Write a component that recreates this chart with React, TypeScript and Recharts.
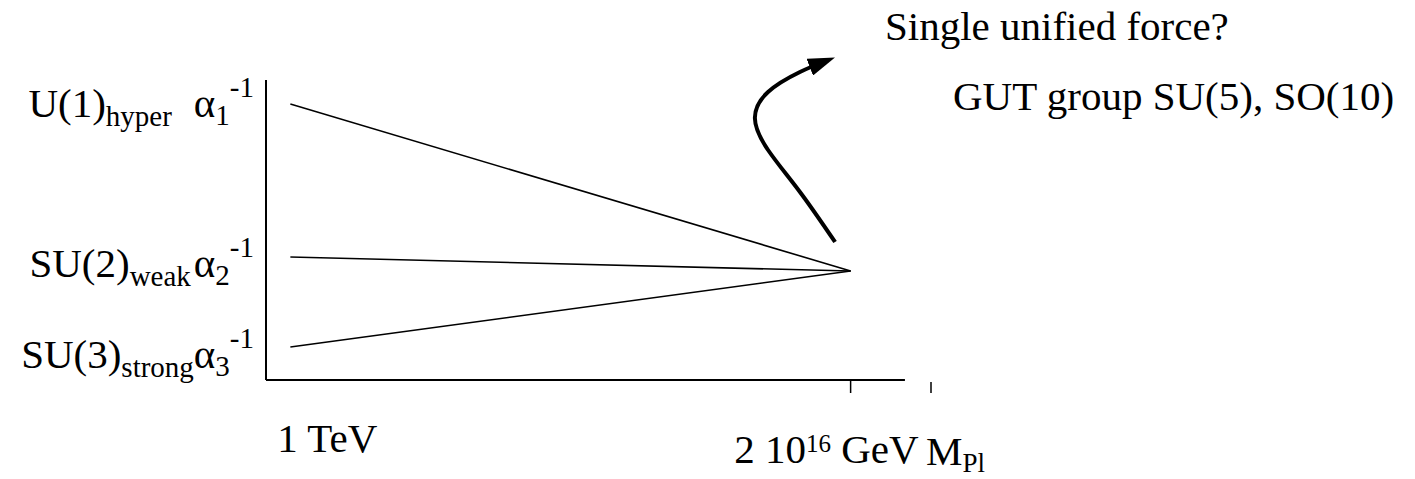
import { Line, LineChart, ReferenceLine, XAxis, YAxis } from "recharts"

// energy axis, schematic "log E" units
const energyTicks = [1, 24, 27.3]
const energyLabels = ["1 TeV", "2 10|16| GeV", "M|Pl"]
const axisEnd = 26.23
const axisTop = 60

// inverse couplings at 1 TeV, meeting at the GUT scale
const groupNames = ["U(1)", "SU(2)", "SU(3)"]
const groupSubs = ["hyper", "weak", "strong"]
const alphaIndex = ["1", "2", "3"]
const alphaInvLow = [55.2, 24.6, 6.6]
const alphaInvGut = 21.8
const lowScale = 1
const gutScale = 24

// curved arrow
const arrowE = [23.36, 21.92, 20.61, 20.07, 20.61, 21.92, 23.09]
const arrowA = [27.6, 37.6, 46, 52.4, 57.6, 61.6, 64]

const FONT = "Liberation Serif, Tinos, Times New Roman, DejaVu Serif, serif"
const txt = { fontFamily: FONT }

const couplingData = alphaInvLow.map((v) => [
  { e: lowScale, a: v },
  { e: gutScale, a: alphaInvGut },
])
const arrowData = arrowE.map((e, i) => ({ e, a: arrowA[i] }))

function GroupTick(props: any) {
  const { x, y, payload } = props
  const i = alphaInvLow.indexOf(payload.value)
  if (i < 0) return null
  const dy = [13, 20, 21][i]
  const gap = [22, 3, 0][i]
  return (
    <text x={x + 2} y={y + dy} textAnchor="end" style={txt} fontSize={41} fill="#000">
      <tspan>{groupNames[i]}</tspan>
      <tspan fontSize={29} dy={9}>{groupSubs[i]}</tspan>
      <tspan dx={gap} dy={-9}>α</tspan>
      <tspan fontSize={29} dy={8}>{alphaIndex[i]}</tspan>
      <tspan fontSize={29} dy={-28}>-1</tspan>
    </text>
  )
}

function EnergyTick(props: any) {
  const { x, y, index } = props
  const parts = energyLabels[index].split("|")
  if (index === 0) {
    return (
      <text x={x - 13} y={y + 72} style={txt} fontSize={41} fill="#000">
        {parts[0]}
      </text>
    )
  }
  if (index === 1) {
    return (
      <g>
        <line x1={x} x2={x} y1={y} y2={y + 13} stroke="#000" strokeWidth={1.5} />
        <text x={x + 68} y={y + 83} textAnchor="end" style={txt} fontSize={41} fill="#000">
          <tspan>{parts[0]}</tspan>
          <tspan fontSize={25} dy={-11}>{parts[1]}</tspan>
          <tspan dy={11}>{parts[2]}</tspan>
        </text>
      </g>
    )
  }
  return (
    <g>
      <line x1={x} x2={x} y1={y + 2} y2={y + 13} stroke="#000" strokeWidth={1.5} />
      <text x={x - 5} y={y + 85} style={txt} fontSize={41} fill="#000">
        <tspan>{parts[0]}</tspan>
        <tspan fontSize={27} dy={7}>{parts[1]}</tspan>
      </text>
    </g>
  )
}

export default function App() {
  return (
    <div style={{ position: "absolute", left: 0, top: 0, background: "#fff" }}>
      <LineChart
        width={1415}
        height={479}
        margin={{ top: 0, right: 484, bottom: 0, left: 0 }}
      >
        <defs>
          <marker
            id="arrowhead"
            markerUnits="userSpaceOnUse"
            viewBox="0 0 27 18"
            markerWidth={27}
            markerHeight={18}
            refX={20}
            refY={9}
            orient="auto"
          >
            <path d="M0,0 L27,9 L0,18 Z" fill="#000" />
          </marker>
        </defs>
        <XAxis
          type="number"
          dataKey="e"
          domain={[0, 27.3]}
          ticks={energyTicks}
          interval={0}
          axisLine={false}
          tickLine={false}
          tickSize={0}
          tickMargin={0}
          height={99}
          tick={<EnergyTick />}
        />
        <YAxis
          type="number"
          dataKey="a"
          domain={[0, 76]}
          ticks={[...alphaInvLow].sort((p, q) => p - q)}
          interval={0}
          axisLine={false}
          tickLine={false}
          tickSize={0}
          tickMargin={14}
          width={266}
          tick={<GroupTick />}
        />
        <ReferenceLine
          segment={[{ x: 0, y: 0 }, { x: axisEnd, y: 0 }]}
          stroke="#000"
          strokeWidth={2}
        />
        <ReferenceLine
          segment={[{ x: 0, y: 0 }, { x: 0, y: axisTop }]}
          stroke="#000"
          strokeWidth={2}
        />
        {couplingData.map((d, i) => (
          <Line
            key={groupNames[i]}
            data={d}
            dataKey="a"
            stroke="#000"
            strokeWidth={1.6}
            dot={false}
            activeDot={false}
            isAnimationActive={false}
          />
        ))}
        <Line
          data={arrowData}
          dataKey="a"
          type="natural"
          stroke="#000"
          strokeWidth={4}
          dot={false}
          activeDot={false}
          markerEnd="url(#arrowhead)"
          isAnimationActive={false}
        />
        <text x={885} y={40} style={txt} fontSize={41} fill="#000">
          Single unified force?
        </text>
        <text x={953} y={110} style={txt} fontSize={41} fill="#000">
          GUT group SU(5), SO(10)
        </text>
      </LineChart>
    </div>
  )
}
